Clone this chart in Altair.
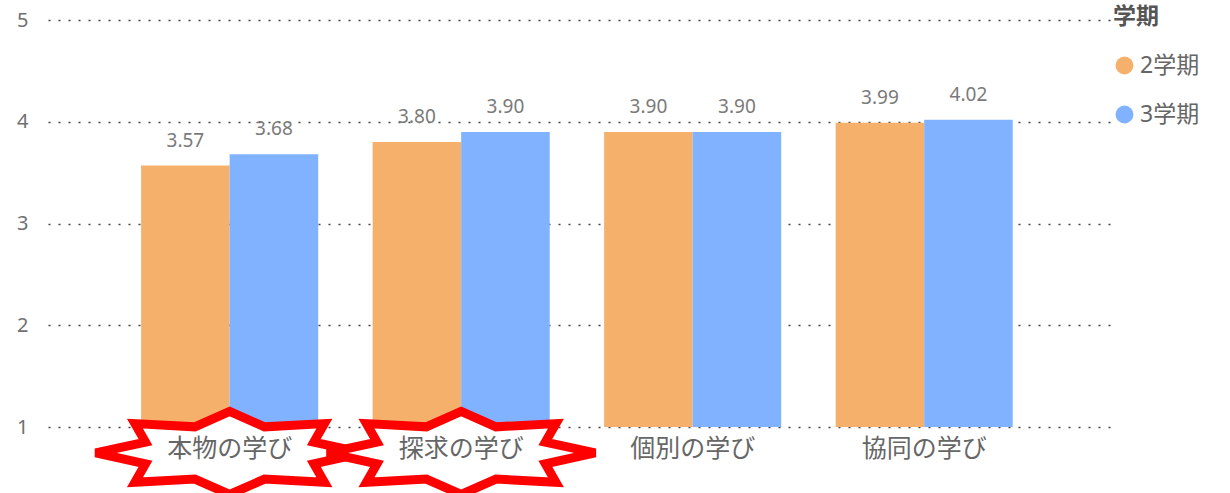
import math
import altair as alt
import pandas as pd

categories = ["本物の学び", "探求の学び", "個別の学び", "協同の学び"]
terms = ["2学期", "3学期"]
values_term2 = [3.57, 3.80, 3.90, 3.99]
values_term3 = [3.68, 3.90, 3.90, 4.02]
starred = ["本物の学び", "探求の学び"]
y_ticks = [1, 2, 3, 4, 5]
colors = ["#F5B06C", "#80B2FF"]

rows = []
for c, a, b in zip(categories, values_term2, values_term3):
    rows.append({"cat": c, "term": terms[0], "v": a})
    rows.append({"cat": c, "term": terms[1], "v": b})
df = pd.DataFrame(rows)
stars = pd.DataFrame({"cat": starred})

# 8-point star outline in the [-1, 1] box, flattened vertically
ay = 0.31
pts = []
for k in range(16):
    th = math.radians(k * 22.5)
    r = 1.0 if k % 2 == 0 else 0.68
    pts.append((r * math.sin(th), -r * math.cos(th) * ay))
star_path = "M" + " L".join(f"{x:.4f},{y:.4f}" for x, y in pts) + " Z"

FONT = "'Noto Sans', 'Noto Sans CJK JP'"

x_enc = alt.X(
    "cat:N",
    sort=categories,
    scale=alt.Scale(paddingInner=0.235, paddingOuter=0.4155, align=0.484),
    axis=alt.Axis(
        title=None, labelAngle=0, domain=False, ticks=False,
        labelFontSize=25, labelColor="#666666", labelPadding=9,
        labelFont=FONT, zindex=1,
    ),
)
y_scale = alt.Scale(domain=[1, 5], zero=False, nice=False)

base = alt.Chart(df)

bars = base.mark_bar().encode(
    x=x_enc,
    xOffset=alt.XOffset("term:N", sort=terms),
    y=alt.Y(
        "v:Q",
        scale=y_scale,
        axis=alt.Axis(
            title=None, values=y_ticks, format="d", domain=False, ticks=False,
            labelFontSize=20, labelColor="#707070", labelPadding=20,
            labelFont=FONT, grid=True, gridColor="#444444",
            gridDash=[2, 8], gridWidth=1.6,
        ),
    ),
    y2=alt.datum(1),
    color=alt.Color(
        "term:N",
        sort=terms,
        scale=alt.Scale(domain=terms, range=colors),
        legend=alt.Legend(
            title="学期", orient="none", legendX=1065, legendY=-14,
            titleFontSize=23, titleFont=FONT, titleColor="#555555",
            titleFontWeight="bold", titlePadding=25,
            labelFontSize=23, labelFont=FONT, labelColor="#666666",
            symbolType="circle", symbolSize=320, symbolStrokeWidth=0,
            rowPadding=25, labelOffset=4, padding=0,
        ),
    ),
)

labels = base.mark_text(
    baseline="alphabetic", dy=-19, fontSize=19, color="#7a7a7a", font=FONT
).encode(
    x=alt.X("cat:N", sort=categories),
    xOffset=alt.XOffset("term:N", sort=terms),
    y=alt.Y("v:Q", scale=y_scale),
    text=alt.Text("v:Q", format=".2f"),
)

star_marks = alt.Chart(stars).mark_point(
    shape=star_path, size=268 * 268, filled=True, fill="white",
    stroke="#FF0000", strokeWidth=9, opacity=1, fillOpacity=1,
    strokeOpacity=1, strokeJoin="miter",
).encode(
    x=alt.X("cat:N", sort=categories),
    y=alt.datum(0.745),
)

chart = alt.layer(bars, labels, star_marks).properties(
    width=1064, height=407,
    autosize=alt.AutoSizeParams(type="none"),
    padding={"left": 48, "top": 20, "right": 118, "bottom": 66},
).configure_view(stroke=None)

chart.save("out.html", embed_options={"renderer": "svg", "actions": False})
